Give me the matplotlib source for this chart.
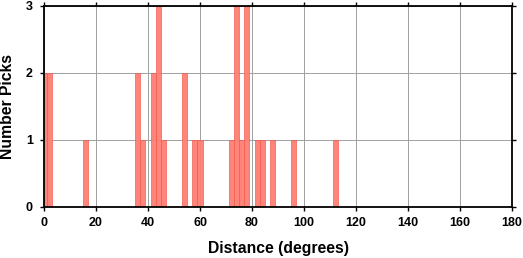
import matplotlib
matplotlib.use('Agg')
import matplotlib.pyplot as plt

# histogram bins (2 degree wide, centred on even degrees) and pick counts
bin_centers = [0, 2, 16, 36, 38, 42, 44, 46, 54, 58, 60, 72, 74, 76, 78, 82, 84, 88, 96, 112]
counts = [2, 2, 1, 2, 1, 2, 3, 1, 2, 1, 1, 1, 3, 1, 3, 1, 1, 1, 1, 1]
bin_width = 2
x_ticks = list(range(0, 181, 20))
y_ticks = [0, 1, 2, 3]

plt.rcParams['font.family'] = ['Liberation Sans', 'DejaVu Sans']
plt.rcParams['font.weight'] = 'bold'

fig = plt.figure(figsize=(5.23, 2.58), dpi=100)
ax = fig.add_axes([0.0841, 0.198, 0.895, 0.779])

ax.grid(True, color='#a0a0a0', linewidth=0.7)
ax.set_axisbelow(True)
ax.bar(bin_centers, counts, width=bin_width, color='#ff7f73', alpha=0.95,
       edgecolor='#f05a50', linewidth=0.5)

ax.set_xlim(0, 180)
ax.set_ylim(0, 3)
ax.set_xticks(x_ticks)
ax.set_yticks(y_ticks)
ax.tick_params(direction='out', length=3, width=1, labelsize=9,
               top=True, right=True)
ax.tick_params(axis='x', pad=4)
ax.tick_params(axis='y', pad=5)
for lbl in ax.get_xticklabels() + ax.get_yticklabels():
    lbl.set_fontweight('bold')
for sp in ax.spines.values():
    sp.set_linewidth(1.3)

ax.set_xlabel('Distance (degrees)', fontsize=11.3, fontweight='bold', labelpad=9)
ax.set_ylabel('Number Picks', fontsize=11.3, fontweight='bold', labelpad=8)

fig.savefig('out.png', dpi=100)
